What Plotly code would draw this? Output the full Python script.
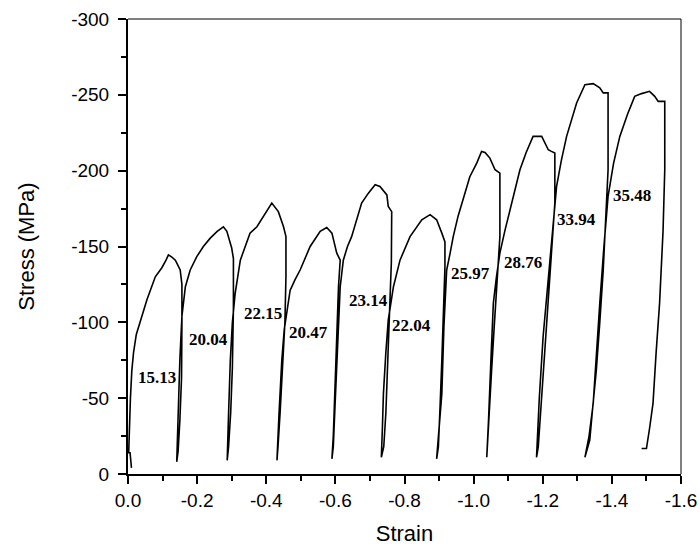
import plotly.graph_objects as go

# ---- data (strain, stress) per loading/unloading cycle ----
strain1 = [-0.010, -0.006, -0.002, -0.004, -0.007, -0.011, -0.016, -0.024, -0.036, -0.055, -0.079, -0.098, -0.110,
           -0.117, -0.127, -0.137, -0.151, -0.156, -0.156, -0.155, -0.150, -0.145, -0.141]
stress1 = [-4, -14, -14, -30, -50, -68, -80, -92, -101, -115, -130, -136, -141,
           -144.5, -143, -141, -134.5, -125, -100, -64, -35, -15, -8]

strain2 = [-0.141, -0.143, -0.146, -0.150, -0.156, -0.166, -0.180, -0.199, -0.218, -0.238, -0.258, -0.276, -0.286,
           -0.300, -0.305, -0.305, -0.302, -0.297, -0.291, -0.287]
stress2 = [-8, -25, -44, -75, -104, -123.5, -134.5, -143.3, -150, -155.5, -160, -163, -160,
           -149, -142, -110, -70, -40, -18, -9]

strain3 = [-0.287, -0.291, -0.296, -0.302, -0.310, -0.325, -0.340, -0.353, -0.373, -0.395, -0.416, -0.435, -0.450,
           -0.457, -0.457, -0.454, -0.448, -0.440, -0.434, -0.431]
stress3 = [-9, -40, -75, -100, -119, -141, -151, -158.8, -163, -171, -178.6, -173, -163,
           -156.5, -130, -100, -70, -40, -18, -9]

strain4 = [-0.431, -0.437, -0.445, -0.452, -0.460, -0.469, -0.483, -0.498, -0.527, -0.556, -0.575, -0.590, -0.604,
           -0.614, -0.609, -0.604, -0.599, -0.594, -0.590]
stress4 = [-9, -40, -75, -95, -108, -121, -128, -134.5, -150, -160, -162.5, -158.8, -145.6,
           -141, -123.5, -90, -53, -25, -10]

strain5 = [-0.590, -0.594, -0.599, -0.604, -0.609, -0.614, -0.623, -0.635, -0.647, -0.676, -0.695, -0.715, -0.729,
           -0.749, -0.753, -0.763, -0.762, -0.758, -0.751, -0.746, -0.740, -0.733]
stress5 = [-10, -18, -45, -75, -100, -123.5, -141, -150, -156.5, -178.6, -185, -190.7, -189.6,
           -184, -176.4, -173, -140, -114.7, -75, -40, -18, -11]

strain6 = [-0.733, -0.736, -0.739, -0.746, -0.753, -0.768, -0.787, -0.816, -0.850, -0.874, -0.893, -0.908, -0.917,
           -0.917, -0.913, -0.908, -0.903, -0.898, -0.893]
stress6 = [-11, -30, -53, -80, -101.5, -123.5, -141, -156.5, -167.6, -171, -167.6, -158.8, -153,
           -136.7, -105, -75, -45, -17.8, -10]

strain7 = [-0.893, -0.900, -0.908, -0.914, -0.918, -0.922, -0.932, -0.941, -0.955, -0.970, -0.989, -1.009, -1.023,
           -1.033, -1.047, -1.062, -1.071, -1.076, -1.076, -1.071, -1.066, -1.059, -1.052, -1.045, -1.038]
stress7 = [-10, -30, -53, -97, -118, -134.5, -145.6, -156.5, -170, -180.8, -196, -205, -212.7,
           -212, -208.3, -200.6, -199.5, -198.4, -156.5, -140, -123.5, -95, -68.5, -40, -11]

strain8 = [-1.038, -1.043, -1.050, -1.057, -1.066, -1.076, -1.090, -1.105, -1.120, -1.134, -1.152, -1.172, -1.197,
           -1.216, -1.225, -1.235, -1.235, -1.228, -1.221, -1.211, -1.201, -1.194, -1.187, -1.182]
stress8 = [-11, -35, -75, -112.5, -130, -145.6, -160, -174, -188, -200.6, -212, -222.6, -222.6,
           -213.8, -212.7, -211.6, -178.6, -155, -134.5, -100, -68.5, -40, -17.8, -11]

strain9 = [-1.182, -1.190, -1.201, -1.211, -1.221, -1.231, -1.240, -1.254, -1.269, -1.298, -1.322, -1.346, -1.365,
           -1.375, -1.389, -1.389, -1.382, -1.375, -1.365, -1.355, -1.345, -1.336, -1.322]
stress9 = [-11, -50, -90.5, -115, -139, -165, -189.6, -207, -222.6, -244.6, -256.7, -257.4, -254.6,
           -251.3, -251.3, -200.6, -165, -134.5, -100, -68.5, -45, -22.3, -11]

strain10 = [-1.322, -1.334, -1.346, -1.355, -1.365, -1.377, -1.389, -1.405, -1.423, -1.445, -1.466, -1.486, -1.509,
            -1.524, -1.534, -1.553, -1.553, -1.548, -1.538, -1.528, -1.519, -1.509, -1.500, -1.486]
stress10 = [-11, -25, -46.5, -80, -112.5, -150, -183, -205, -222.6, -237, -249, -250.8, -252.3,
            -249, -245.7, -245.7, -200.6, -160, -112.5, -80, -46.5, -30, -16.8, -16.8]

label_texts = ["15.13", "20.04", "22.15", "20.47", "23.14", "22.04", "25.97", "28.76", "33.94", "35.48"]
label_strain = [-0.084, -0.233, -0.392, -0.522, -0.695, -0.821, -0.990, -1.143, -1.298, -1.459]
label_stress = [-63.7, -88.8, -105.5, -93.1, -114.7, -98.2, -132.4, -139.4, -167.6, -183.4]

x_tickvals = [0.0, -0.2, -0.4, -0.6, -0.8, -1.0, -1.2, -1.4, -1.6]
x_ticktext = ["0.0", "-0.2", "-0.4", "-0.6", "-0.8", "-1.0", "-1.2", "-1.4", "-1.6"]
x_minorvals = [-0.1, -0.3, -0.5, -0.7, -0.9, -1.1, -1.3, -1.5]
y_tickvals = [0, -50, -100, -150, -200, -250, -300]
y_ticktext = ["0", "-50", "-100", "-150", "-200", "-250", "-300"]
y_minorvals = [-25, -75, -125, -175, -225, -275]

strain_cycles = [strain1, strain2, strain3, strain4, strain5, strain6, strain7, strain8, strain9, strain10]
stress_cycles = [stress1, stress2, stress3, stress4, stress5, stress6, stress7, stress8, stress9, stress10]

fig = go.Figure()
all_x, all_y = [], []
for sx, sy in zip(strain_cycles, stress_cycles):
    all_x.extend(sx)
    all_y.extend(sy)
fig.add_trace(go.Scatter(x=all_x, y=all_y, mode="lines",
                         line=dict(color="black", width=1.6), showlegend=False, hoverinfo="skip"))

for t, lx, ly in zip(label_texts, label_strain, label_stress):
    fig.add_annotation(x=lx, y=ly, xref="x", yref="y", text="<b>" + t + "</b>", showarrow=False,
                       font=dict(family="Liberation Serif, Times New Roman, serif", size=17, color="black"))

tickfont = dict(family="Liberation Sans, Arial, sans-serif", size=19, color="black")
titlefont = dict(family="Liberation Sans, Arial, sans-serif", size=22, color="black")

fig.update_layout(
    width=700, height=550,
    margin=dict(l=128, r=19, t=19, b=76, autoexpand=False),
    paper_bgcolor="white", plot_bgcolor="white",
    xaxis=dict(range=[0.0, -1.6], tickmode="array", tickvals=x_tickvals, ticktext=x_ticktext,
               ticks="outside", ticklen=8, tickwidth=1.6, tickcolor="black",
               minor=dict(tickmode="array", tickvals=x_minorvals, ticks="outside", ticklen=5,
                          tickwidth=1.6, tickcolor="black", showgrid=False),
               showline=True, linewidth=2, linecolor="black", mirror=False, automargin=False,
               showgrid=False, zeroline=False, tickfont=tickfont, ticklabelstandoff=0,
               title=dict(text="Strain", font=titlefont, standoff=16)),
    yaxis=dict(range=[0, -300], tickmode="array", tickvals=y_tickvals, ticktext=y_ticktext,
               ticks="outside", ticklen=8, tickwidth=1.6, tickcolor="black",
               minor=dict(tickmode="array", tickvals=y_minorvals, ticks="outside", ticklen=5,
                          tickwidth=1.6, tickcolor="black", showgrid=False),
               showline=True, linewidth=2, linecolor="black", mirror=False, automargin=False,
               showgrid=False, zeroline=False, tickfont=tickfont, ticklabelstandoff=5,
               title=dict(text="Stress (MPa)", font=titlefont, standoff=30)),
    shapes=[
        dict(type="line", xref="paper", yref="paper", x0=0, x1=1, y0=1, y1=1,
             line=dict(color="black", width=1)),
        dict(type="line", xref="paper", yref="paper", x0=1, x1=1, y0=0, y1=1,
             line=dict(color="black", width=1)),
    ],
)

# remove the default 8px page margin so the 700x550 figure fills the window exactly
fig.write_html("out.html",
               config={"displayModeBar": False},
               post_script="document.body.style.margin='0';document.body.style.overflow='hidden';")
